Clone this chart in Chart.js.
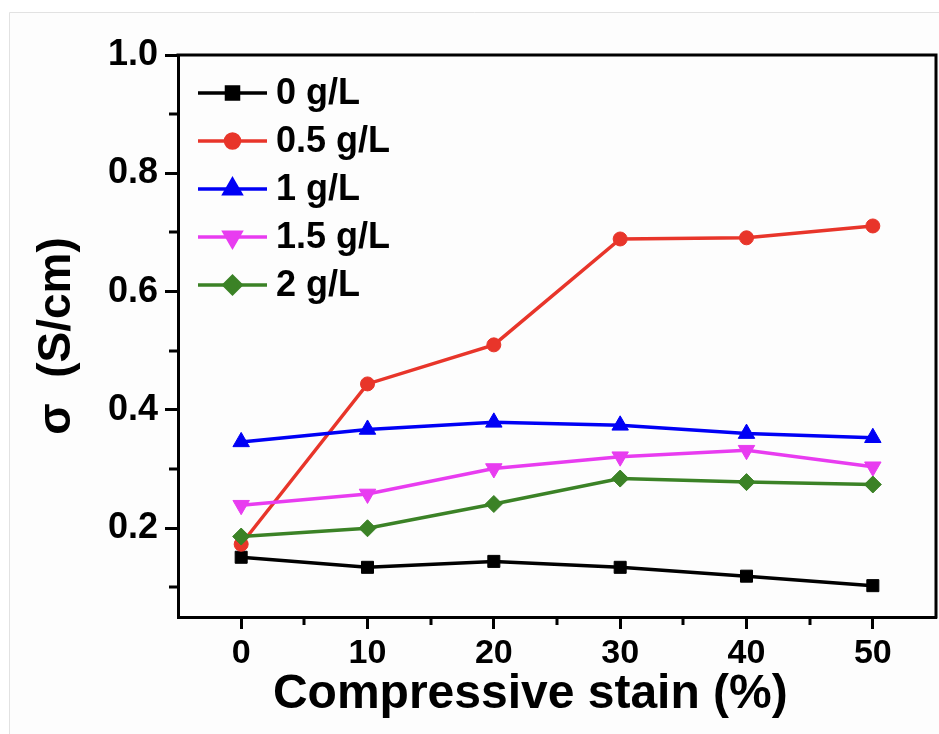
<!DOCTYPE html>
<html>
<head>
<meta charset="utf-8">
<title>Conductivity vs compressive strain</title>
<script src="https://cdn.jsdelivr.net/npm/chart.js@4.4.0/dist/chart.umd.min.js"></script>
<style>
  html, body { margin: 0; padding: 0; background: #fff; }
  #wrap { width: 939px; height: 734px; }
</style>
</head>
<body>
<div id="wrap"><canvas id="chart" width="939" height="734"></canvas></div>
<script>
// ---- Data ----
const strain  = [0, 10, 20, 30, 40, 50];
const conc0   = [0.151, 0.134, 0.144, 0.134, 0.119, 0.103];
const conc05  = [0.173, 0.444, 0.510, 0.689, 0.691, 0.711];
const conc1   = [0.346, 0.367, 0.379, 0.374, 0.360, 0.353];
const conc15  = [0.239, 0.258, 0.301, 0.321, 0.332, 0.304];
const conc2   = [0.186, 0.200, 0.241, 0.284, 0.278, 0.274];
const seriesNames = ["0 g/L", "0.5 g/L", "1 g/L", "1.5 g/L", "2 g/L"];

const xTicks      = [0, 10, 20, 30, 40, 50];
const xMinorTicks = [5, 15, 25, 35, 45];
const yTicks      = [0.2, 0.4, 0.6, 0.8, 1.0];
const yMinorTicks = [0.1, 0.3, 0.5, 0.7, 0.9];

const FONT = "'Liberation Sans', Arial, Helvetica, sans-serif";

function pts(values) {
  return strain.map((x, i) => ({ x, y: values[i] }));
}

function series(label, values, color, style, radius, rotation, order) {
  return {
    label,
    data: pts(values),
    borderColor: color,
    backgroundColor: color,
    pointBackgroundColor: color,
    pointBorderColor: color,
    pointBorderWidth: 1,
    pointStyle: style,
    pointRadius: radius,
    pointRotation: rotation,
    borderWidth: 3.5,
    tension: 0,
    order,
    clip: false,
  };
}

// ---- Plugins: page, frame, minor ticks, inline legend ----
const pageBg = {
  id: "pageBg",
  beforeDraw(chart) {
    const ctx = chart.ctx;
    ctx.save();
    ctx.fillStyle = "#fff";
    ctx.fillRect(0, 0, chart.width, chart.height);
    ctx.fillStyle = "#fdfdfd";
    ctx.fillRect(9, 12, chart.width, chart.height);
    ctx.strokeStyle = "#e2e2e2";
    ctx.lineWidth = 1;
    ctx.beginPath();
    ctx.moveTo(9.5, chart.height);
    ctx.lineTo(9.5, 12.5);
    ctx.lineTo(chart.width, 12.5);
    ctx.stroke();
    ctx.restore();
  }
};

const frameAndMinor = {
  id: "frameAndMinor",
  afterDraw(chart) {
    const ctx = chart.ctx;
    const { left, right, top, bottom } = chart.chartArea;
    const xs = chart.scales.x, ys = chart.scales.y;
    ctx.save();
    ctx.strokeStyle = "#000";
    ctx.lineWidth = 3;
    ctx.beginPath();
    ctx.moveTo(left - 1.5, top);
    ctx.lineTo(right, top);
    ctx.lineTo(right, bottom + 1.5);
    ctx.stroke();
    ctx.beginPath();
    xMinorTicks.forEach(v => {
      const px = Math.round(xs.getPixelForValue(v));
      ctx.moveTo(px, bottom);
      ctx.lineTo(px, bottom + 8);
    });
    yMinorTicks.forEach(v => {
      const py = Math.round(ys.getPixelForValue(v));
      ctx.moveTo(left, py);
      ctx.lineTo(left - 9, py);
    });
    ctx.stroke();
    ctx.restore();
  }
};

const inlineLegend = {
  id: "inlineLegend",
  afterDraw(chart) {
    const ctx = chart.ctx;
    const { left, top } = chart.chartArea;
    chart.data.datasets.forEach((ds, i) => {
      const y = top + 38 + i * 48;
      const x0 = left + 20, x1 = left + 89;
      ctx.save();
      ctx.strokeStyle = ds.borderColor;
      ctx.lineWidth = 3.5;
      ctx.beginPath();
      ctx.moveTo(x0, y);
      ctx.lineTo(x1, y);
      ctx.stroke();
      ctx.fillStyle = ds.pointBackgroundColor;
      ctx.strokeStyle = ds.pointBorderColor;
      Chart.helpers.drawPoint(ctx, {
        pointStyle: ds.pointStyle,
        radius: ds.pointRadius,
        rotation: ds.pointRotation || 0,
        borderWidth: 1,
      }, (x0 + x1) / 2, y);
      ctx.fillStyle = "#000";
      ctx.font = "bold 36px " + FONT;
      ctx.textBaseline = "middle";
      ctx.textAlign = "left";
      ctx.fillText(ds.label, x1 + 9, y + 1);
      ctx.restore();
    });
  }
};

// ---- Chart ----
new Chart(document.getElementById("chart"), {
  type: "line",
  data: {
    datasets: [
      series(seriesNames[0], conc0,  "#000000", "rect",     8.5, 0,   4),
      series(seriesNames[1], conc05, "#e8352a", "circle",   7,   0,   3),
      series(seriesNames[2], conc1,  "#0000f5", "triangle", 9.5, 0,   2),
      series(seriesNames[3], conc15, "#e83cf0", "triangle", 9.5, 180, 1),
      series(seriesNames[4], conc2,  "#3b8226", "rectRot",  8.5, 0,   0),
    ]
  },
  options: {
    responsive: false,
    animation: false,
    devicePixelRatio: 1,
    layout: { autoPadding: false, padding: { top: 55, right: 3, left: 0, bottom: 0 } },
    plugins: {
      legend: { display: false },
      tooltip: { enabled: false },
    },
    scales: {
      x: {
        type: "linear",
        min: -5,
        max: 55,
        afterBuildTicks: s => { s.ticks = xTicks.map(v => ({ value: v })); },
        afterFit: s => { s.height = 117; },
        grid: { drawOnChartArea: false, tickLength: 12, tickWidth: 3, tickColor: "#000" },
        border: { display: true, color: "#000", width: 3 },
        ticks: {
          color: "#000",
          padding: 4,
          maxRotation: 0,
          autoSkip: false,
          font: { family: FONT, size: 34, weight: "bold" },
        },
        title: {
          display: true,
          text: "Compressive stain (%)    ",
          color: "#000",
          padding: { top: 0, bottom: 10 },
          font: { family: FONT, size: 48, weight: "bold" },
        },
      },
      y: {
        type: "linear",
        min: 0.05,
        max: 1.0,
        afterBuildTicks: s => { s.ticks = yTicks.map(v => ({ value: v })); },
        afterFit: s => { s.width = 178; },
        grid: { drawOnChartArea: false, tickLength: 13, tickWidth: 3, tickColor: "#000" },
        border: { display: true, color: "#000", width: 3 },
        ticks: {
          color: "#000",
          padding: 7,
          callback: v => v.toFixed(1),
          font: { family: FONT, size: 36, weight: "bold" },
        },
        title: {
          display: true,
          text: "σ  (S/cm)",
          color: "#000",
          padding: { top: 30, bottom: 0 },
          font: { family: FONT, size: 46, weight: "bold" },
        },
      },
    },
  },
  plugins: [pageBg, frameAndMinor, inlineLegend],
});
</script>
</body>
</html>
